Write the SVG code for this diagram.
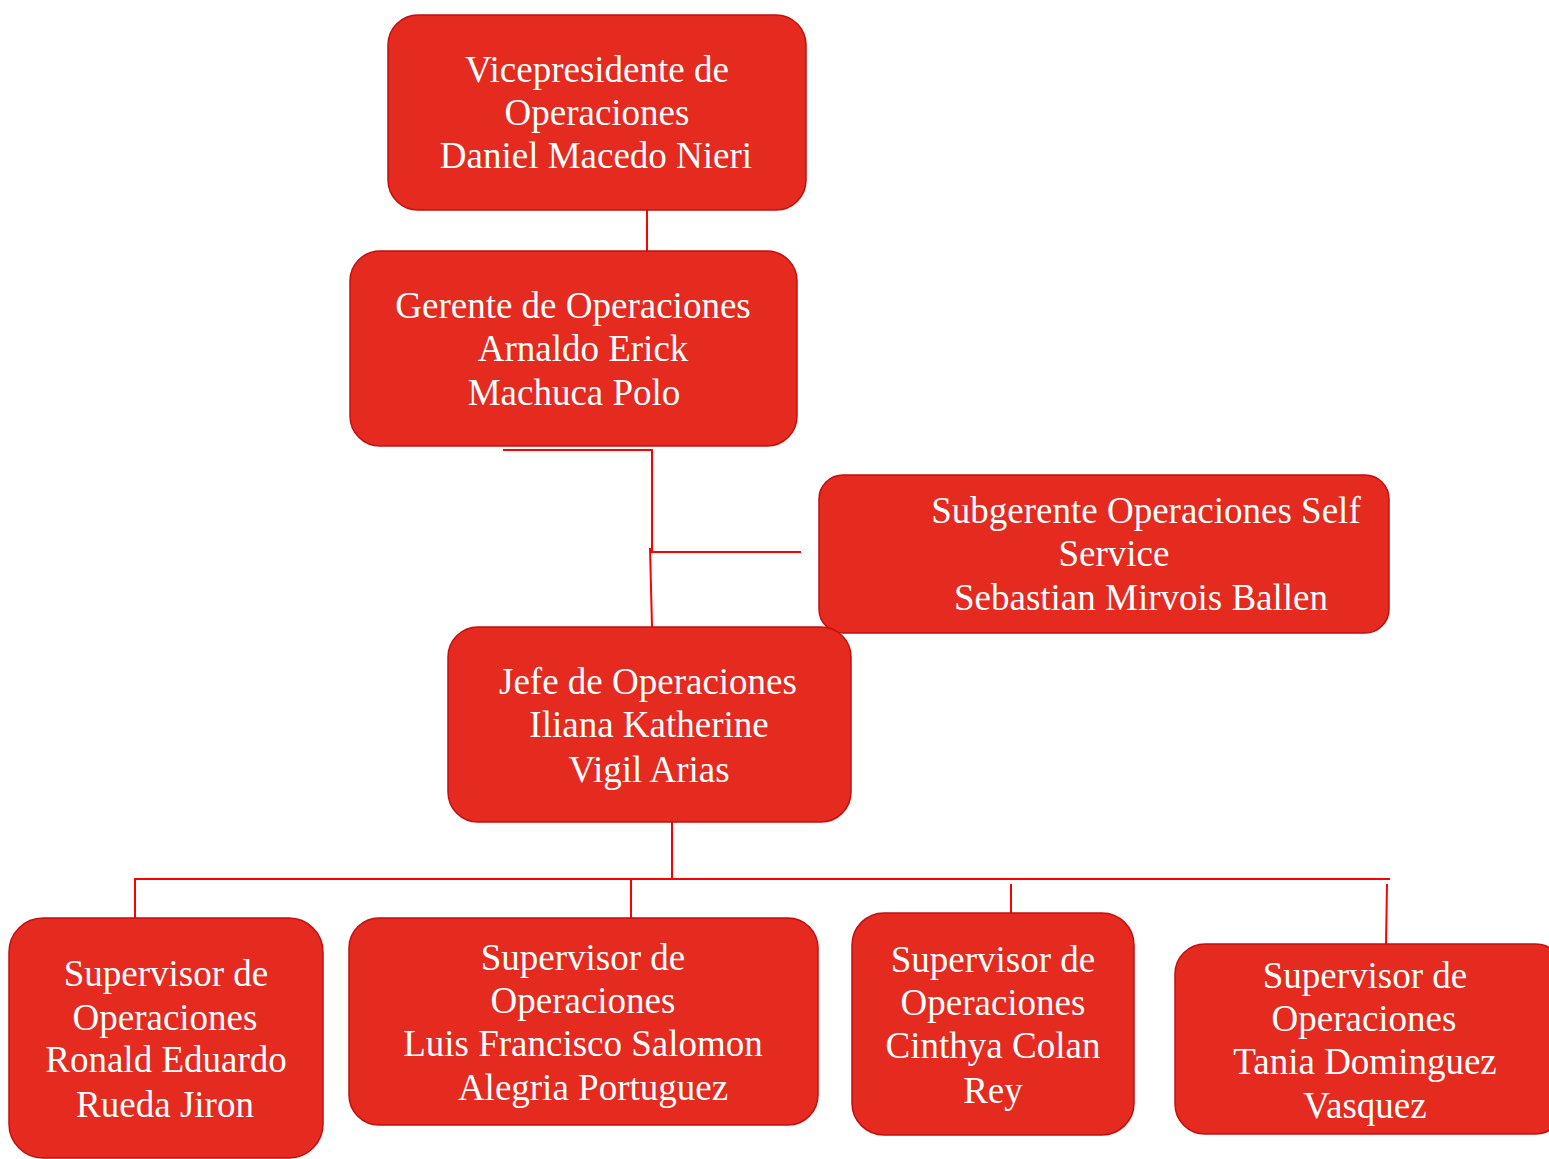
<svg xmlns="http://www.w3.org/2000/svg" width="1549" height="1159" viewBox="0 0 1549 1159">
<style>
.box{fill:#E52A20;stroke:#C40F0F;stroke-width:1.5}
.t{font-family:"Liberation Serif","Times New Roman",serif;font-size:37px;fill:#FFFFFF;text-anchor:middle}
.c{fill:none;stroke:#FF0000;stroke-width:2}
</style>
<rect width="1549" height="1159" fill="#FFFFFF"/>
<g id="connectors">
<line class="c" x1="647" y1="210" x2="647" y2="251"/>
<polyline class="c" points="503,450 652,450 652,552 801,552"/>
<line class="c" x1="650" y1="548" x2="652" y2="627"/>
<line class="c" x1="672" y1="822" x2="672" y2="879"/>
<line class="c" x1="134" y1="879" x2="1390" y2="879"/>
<line class="c" x1="135" y1="879" x2="135" y2="918"/>
<line class="c" x1="631" y1="879" x2="631" y2="918"/>
<line class="c" x1="1011" y1="884" x2="1011" y2="913"/>
<line class="c" x1="1387" y1="884" x2="1386" y2="944"/>
</g>
<g id="vicepresidente">
<rect class="box" x="388" y="15" width="418" height="195" rx="30"/>
<text class="t"><tspan x="597" y="82">Vicepresidente de</tspan><tspan x="597" y="125">Operaciones</tspan><tspan x="596" y="168">Daniel Macedo Nieri</tspan></text>
</g>
<g id="gerente">
<rect class="box" x="350" y="251" width="447" height="195" rx="30"/>
<text class="t"><tspan x="573" y="318">Gerente de Operaciones</tspan><tspan x="583" y="361">Arnaldo Erick</tspan><tspan x="574" y="405">Machuca Polo</tspan></text>
</g>
<g id="subgerente">
<rect class="box" x="819" y="475" width="570" height="158" rx="24"/>
<text class="t"><tspan x="1146" y="523">Subgerente Operaciones Self</tspan><tspan x="1114" y="566">Service</tspan><tspan x="1141" y="610">Sebastian Mirvois Ballen</tspan></text>
</g>
<g id="jefe">
<rect class="box" x="448" y="627" width="403" height="195" rx="30"/>
<text class="t"><tspan x="648" y="694">Jefe de Operaciones</tspan><tspan x="649" y="737">Iliana Katherine</tspan><tspan x="649" y="782">Vigil Arias</tspan></text>
</g>
<g id="supervisor1">
<rect class="box" x="9" y="918" width="314" height="240" rx="34"/>
<text class="t"><tspan x="166" y="986">Supervisor de</tspan><tspan x="165" y="1030">Operaciones</tspan><tspan x="166" y="1072">Ronald Eduardo</tspan><tspan x="165" y="1117">Rueda Jiron</tspan></text>
</g>
<g id="supervisor2">
<rect class="box" x="349" y="918" width="469" height="207" rx="30"/>
<text class="t"><tspan x="583" y="970">Supervisor de</tspan><tspan x="583" y="1013">Operaciones</tspan><tspan x="583" y="1056">Luis Francisco Salomon</tspan><tspan x="593" y="1100">Alegria Portuguez</tspan></text>
</g>
<g id="supervisor3">
<rect class="box" x="852" y="913" width="282" height="222" rx="32"/>
<text class="t"><tspan x="993" y="972">Supervisor de</tspan><tspan x="993" y="1015">Operaciones</tspan><tspan x="993" y="1058">Cinthya Colan</tspan><tspan x="993" y="1103">Rey</tspan></text>
</g>
<g id="supervisor4">
<rect class="box" x="1175" y="944" width="390" height="190" rx="30"/>
<text class="t"><tspan x="1365" y="988">Supervisor de</tspan><tspan x="1364" y="1031">Operaciones</tspan><tspan x="1365" y="1074">Tania Dominguez</tspan><tspan x="1365" y="1118">Vasquez</tspan></text>
</g>
</svg>
